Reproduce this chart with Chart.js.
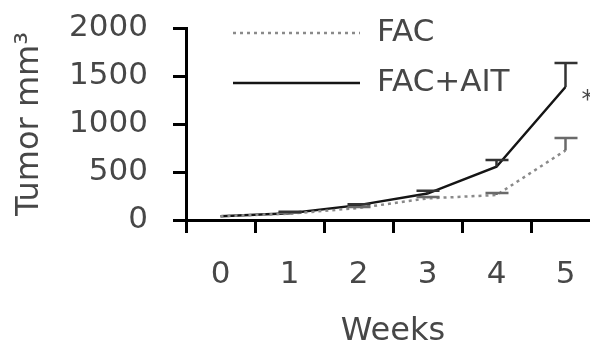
<!DOCTYPE html>
<html>
<head>
<meta charset="utf-8">
<script src="https://cdn.jsdelivr.net/npm/chart.js@4/dist/chart.umd.min.js"></script>
<style>
body { margin: 0; overflow: hidden; background: #fff; }
#wrap { width: 610px; height: 348px; }
</style>
</head>
<body>
<div id="wrap"><canvas id="tumor-chart" width="610" height="348"></canvas></div>
<script>
// data
var weeks = ['0', '1', '2', '3', '4', '5'];
var facLabel = 'FAC';
var facAitLabel = 'FAC+AIT';
var fac = [40, 65, 125, 225, 260, 725];
var facErr = [0, 10, 10, 15, 20, 130];
var facAit = [40, 70, 155, 275, 555, 1385];
var facAitErr = [0, 15, 10, 30, 70, 250];
var yMax = 2000;
var yStep = 500;
var starMark = '*';

var textColor = '#474747';
var fontFamily = "'DejaVu Sans', Verdana, sans-serif";

// error bars (caps on top only, like the original)
var errorBars = {
    id: 'errorBars',
    afterDatasetsDraw: function (chart) {
        var ctx = chart.ctx;
        var x = chart.scales.x, y = chart.scales.y;
        chart.data.datasets.forEach(function (ds) {
            ctx.save();
            ctx.strokeStyle = ds.errColor;
            ctx.lineWidth = 2.5;
            ds.data.forEach(function (v, i) {
                var e = ds.err[i];
                if (!e) return;
                var px = x.getPixelForValue(i);
                var y0 = y.getPixelForValue(v);
                var y1 = y.getPixelForValue(v + e);
                ctx.beginPath();
                ctx.moveTo(px, y0);
                ctx.lineTo(px, y1);
                ctx.moveTo(px - 11, y1);
                ctx.lineTo(px + 12, y1);
                ctx.stroke();
            });
            ctx.restore();
        });
    }
};

// legend lines inside the plot + the star by the last point
var insideLegend = {
    id: 'insideLegend',
    afterDraw: function (chart) {
        var ctx = chart.ctx;
        var rows = [33, 83];
        ctx.save();
        chart.data.datasets.forEach(function (ds, k) {
            ctx.beginPath();
            ctx.strokeStyle = ds.borderColor;
            ctx.lineWidth = ds.borderWidth;
            ctx.setLineDash(ds.borderDash || []);
            ctx.moveTo(233, rows[k]);
            ctx.lineTo(360, rows[k]);
            ctx.stroke();
            ctx.setLineDash([]);
            ctx.fillStyle = textColor;
            ctx.font = '31px ' + fontFamily;
            ctx.textBaseline = 'middle';
            ctx.textAlign = 'left';
            ctx.fillText(ds.label, 377, rows[k]);
        });
        var last = facAit.length - 1;
        var sx = chart.scales.x.getPixelForValue(last) + 22;
        var sy = chart.scales.y.getPixelForValue(facAit[last]) + 14;
        ctx.font = '24px ' + fontFamily;
        ctx.textAlign = 'center';
        ctx.fillText(starMark, sx, sy);
        ctx.restore();
    }
};

var ctx = document.getElementById('tumor-chart').getContext('2d');
var myChart = new Chart(ctx, {
    type: 'line',
    data: {
        labels: weeks,
        datasets: [{
            label: facLabel,
            data: fac,
            err: facErr,
            borderColor: '#8a8a8a',
            errColor: '#6a6a6a',
            borderWidth: 2.5,
            borderDash: [3, 4],
            pointRadius: 0,
            fill: false
        },
        {
            label: facAitLabel,
            data: facAit,
            err: facAitErr,
            borderColor: '#151515',
            errColor: '#333333',
            borderWidth: 2.5,
            pointRadius: 0,
            fill: false
        }]
    },
    plugins: [errorBars, insideLegend],
    options: {
        responsive: false,
        animation: false,
        devicePixelRatio: 1,
        layout: { padding: { left: 0, top: 28, right: 10, bottom: 0 } },
        plugins: {
            legend: { display: false },
            tooltip: { enabled: false }
        },
        scales: {
            x: {
                offset: true,
                grid: { offset: true, drawOnChartArea: false, tickLength: 13, color: '#000', lineWidth: 3 },
                border: { color: '#000', width: 3 },
                ticks: { color: textColor, padding: 23, font: { family: fontFamily, size: 31 } },
                title: {
                    display: true, text: 'Weeks', color: textColor,
                    padding: 0, font: { family: fontFamily, size: 32, lineHeight: 1 }
                },
                afterFit: function (s) { s.height = 128; }
            },
            y: {
                min: 0,
                max: yMax,
                grid: { drawOnChartArea: false, tickLength: 13, color: '#000', lineWidth: 3 },
                border: { color: '#000', width: 3 },
                ticks: {
                    stepSize: yStep, color: textColor, padding: 25, font: { family: fontFamily, size: 31 },
                    callback: function (v) { return String(v); }
                },
                title: {
                    display: true, text: 'Tumor mm³', color: textColor,
                    padding: { top: 10, bottom: 0 }, font: { family: fontFamily, size: 32, lineHeight: 1.2 }
                },
                afterFit: function (s) {
                    s.width = 186;
                    s.paddingTop = 0;
                    s.paddingBottom = 0;
                }
            }
        }
    }
});
</script>
</body>
</html>
